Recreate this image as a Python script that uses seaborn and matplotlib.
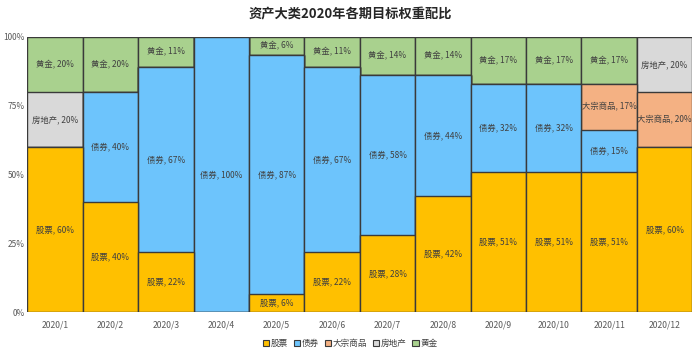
import matplotlib
matplotlib.use("Agg")
import matplotlib.pyplot as plt
import seaborn as sns
import numpy as np
import pandas as pd
from matplotlib.patches import Patch

sns.set_theme(style="white")
plt.rcParams['font.family'] = ['Noto Sans CJK SC', 'DejaVu Sans']

months = ["2020/1", "2020/2", "2020/3", "2020/4", "2020/5", "2020/6",
          "2020/7", "2020/8", "2020/9", "2020/10", "2020/11", "2020/12"]
series_names = ["股票", "债券", "大宗商品", "房地产", "黄金"]
stocks = [60, 40, 22, 0, 6.4, 22, 28, 42, 51, 51, 51, 60]
bonds = [0, 40, 67, 100, 87.2, 67, 58, 44, 32, 32, 15, 0]
commodities = [0, 0, 0, 0, 0, 0, 0, 0, 0, 0, 17, 20]
real_estate = [20, 0, 0, 0, 0, 0, 0, 0, 0, 0, 0, 20]
gold = [20, 20, 11, 0, 6.4, 11, 14, 14, 17, 17, 17, 0]
colors = ["#FFC000", "#6DC4FC", "#F4B183", "#D9D9D9", "#A9D18E"]
title = "资产大类2020年各期目标权重配比"

data = np.array([stocks, bonds, commodities, real_estate, gold], dtype=float)
cum = np.cumsum(data, axis=0)

fig = plt.figure(figsize=(7, 3.55), dpi=100)
ax = fig.add_axes([0.039, 0.121, 0.950, 0.775])

edge = "#3A3A3A"
for i in range(len(series_names) - 1, -1, -1):
    df = pd.DataFrame({"month": months, "val": cum[i]})
    sns.barplot(data=df, x="month", y="val", color=colors[i], width=1.0,
                edgecolor=edge, linewidth=1.0, saturation=1, ax=ax)

for i, name in enumerate(series_names):
    for j in range(len(months)):
        v = data[i, j]
        if v <= 0:
            continue
        mid = cum[i, j] - v / 2
        ax.text(j, mid, f"{name}, {v:.0f}%", ha="center", va="center",
                fontsize=6.0, color="#404040")

ax.set_xlim(-0.5, len(months) - 0.5)
ax.set_ylim(0, 100)
ax.set_yticks([0, 25, 50, 75, 100])
ax.set_yticklabels(["0%", "25%", "50%", "75%", "100%"], fontsize=6, color="#595959")
ax.tick_params(axis="x", labelsize=6.2, colors="#595959", pad=6, length=0)
ax.tick_params(axis="y", length=0, pad=2)
ax.set_xlabel("")
ax.set_ylabel("")
for s in ax.spines.values():
    s.set_visible(False)

fig.text(0.5, 0.958, title, ha="center", va="center", fontsize=9.5,
         fontweight="bold", color="#262626")

handles = [Patch(facecolor=c, edgecolor=edge, linewidth=0.8) for c in colors]
fig.legend(handles, series_names, loc="center", bbox_to_anchor=(0.5, 0.033),
           ncol=5, frameon=False, fontsize=6.2, handlelength=0.7,
           handleheight=0.7, handletextpad=0.2, columnspacing=0.7,
           labelcolor="#404040")

fig.savefig("out.png", dpi=100)
